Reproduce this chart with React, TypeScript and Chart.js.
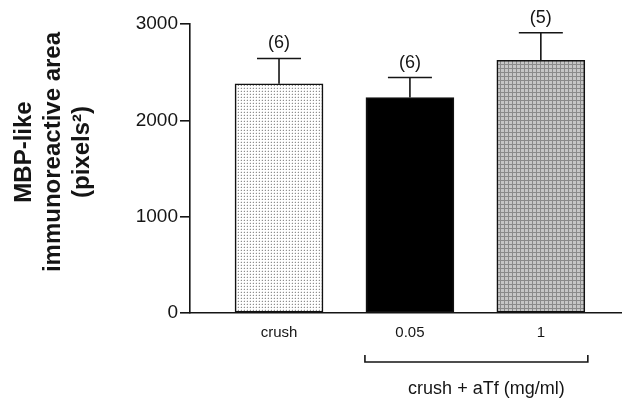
import React, { useEffect, useRef } from "react";
import { Chart, registerables } from "chart.js";

Chart.register(...registerables);

const categories = ["crush", "0.05", "1"];
const xPositions = [1, 2, 3];
const means = [2380, 2237, 2624];
const sems = [262, 207, 285];
const nLabels = ["(6)", "(6)", "(5)"];
const yTicks = [0, 1000, 2000, 3000];
const groupLabel = "crush + aTf (mg/ml)";
const titleLines = ["MBP-like", "immunoreactive area", "(pixels\u00B2)"];

const FONT = "'Liberation Sans', Arial, Helvetica, sans-serif";
const INK = "#151515";

function makePattern(kind: string): CanvasPattern | string {
  const c = document.createElement("canvas");
  const size = kind === "dots" ? 3 : 4;
  c.width = size;
  c.height = size;
  const ctx = c.getContext("2d");
  if (!ctx) return "#ccc";
  if (kind === "dots") {
    ctx.fillStyle = "#ffffff";
    ctx.fillRect(0, 0, size, size);
    ctx.fillStyle = "#8f8f8f";
    ctx.fillRect(1, 1, 1, 1);
    ctx.fillStyle = "#e6e6e6";
    ctx.fillRect(0, 1, 1, 1);
    ctx.fillRect(1, 0, 1, 1);
  } else {
    ctx.fillStyle = "#c6c6c6";
    ctx.fillRect(0, 0, size, size);
    ctx.fillStyle = "#8a8a8a";
    ctx.fillRect(0, 0, size, 1);
    ctx.fillRect(0, 0, 1, size);
  }
  const p = ctx.createPattern(c, "repeat");
  return p || "#ccc";
}

const annotations = {
  id: "annotations",
  afterDatasetsDraw(chart: any) {
    const ctx = chart.ctx as CanvasRenderingContext2D;
    const meta = chart.getDatasetMeta(0);
    const y = chart.scales.y;
    ctx.save();
    ctx.strokeStyle = INK;
    ctx.lineWidth = 1.6;
    meta.data.forEach((bar: any, i: number) => {
      const top = y.getPixelForValue(means[i] + sems[i]);
      ctx.beginPath();
      ctx.moveTo(bar.x, bar.y);
      ctx.lineTo(bar.x, top);
      ctx.moveTo(bar.x - 22, top);
      ctx.lineTo(bar.x + 22, top);
      ctx.stroke();
      ctx.fillStyle = INK;
      ctx.font = `18px ${FONT}`;
      ctx.textAlign = "center";
      ctx.textBaseline = "middle";
      ctx.fillText(nLabels[i], bar.x, top - 15);
    });
    ctx.restore();
  },
  afterDraw(chart: any) {
    const ctx = chart.ctx as CanvasRenderingContext2D;
    const meta = chart.getDatasetMeta(0);
    const b1 = meta.data[1];
    const b2 = meta.data[2];
    const left = b1.x - b1.width / 2 - 1;
    const right = b2.x + b2.width / 2 + 3;
    const by = 362;
    ctx.save();
    ctx.strokeStyle = INK;
    ctx.lineWidth = 1.6;
    ctx.beginPath();
    ctx.moveTo(left, by - 7);
    ctx.lineTo(left, by);
    ctx.lineTo(right, by);
    ctx.lineTo(right, by - 7);
    ctx.stroke();
    ctx.fillStyle = INK;
    ctx.font = `18px ${FONT}`;
    ctx.textAlign = "center";
    ctx.textBaseline = "middle";
    ctx.fillText(groupLabel, (left + right) / 2 + 10, 389);

    // rotated y-axis title
    const xs = [24, 53, 82];
    ctx.font = `bold 24px ${FONT}`;
    titleLines.forEach((line, i) => {
      ctx.save();
      ctx.translate(xs[i], 152);
      ctx.rotate(-Math.PI / 2);
      ctx.fillText(line, 0, 0);
      ctx.restore();
    });
    ctx.restore();
  },
};

export default function App() {
  const ref = useRef<HTMLCanvasElement | null>(null);

  useEffect(() => {
    if (!ref.current) return;
    const dots = makePattern("dots");
    const grid = makePattern("grid");
    const chart = new Chart(ref.current, {
      type: "bar",
      data: {
        datasets: [
          {
            data: xPositions.map((x, i) => ({ x, y: means[i] })) as any,
            backgroundColor: [dots, "#000000", grid] as any,
            borderColor: "#111111",
            borderWidth: 1.6,
            borderSkipped: false,
            barThickness: 88,
          },
        ],
      },
      options: {
        responsive: false,
        animation: false,
        devicePixelRatio: 1,
        layout: { padding: { top: 24, right: 0, left: 0, bottom: 0 } },
        plugins: { legend: { display: false }, tooltip: { enabled: false } },
        scales: {
          x: {
            type: "linear",
            offset: false,
            min: 0.32,
            max: 3.62,
            grid: { display: true, drawOnChartArea: false, drawTicks: false },
            border: { display: true, color: INK, width: 1.6 },
            afterBuildTicks: (s: any) => {
              s.ticks = xPositions.map((v) => ({ value: v }));
            },
            ticks: {
              autoSkip: false,
              maxRotation: 0,
              padding: 11,
              color: INK,
              font: { family: FONT, size: 15 },
              callback: (v: any) => {
                const idx = xPositions.indexOf(Number(v));
                return idx >= 0 ? categories[idx] : "";
              },
            },
            afterFit: (s: any) => {
              s.height = 86;
            },
          },
          y: {
            min: 0,
            max: 3000,
            afterBuildTicks: (s: any) => {
              s.ticks = yTicks.map((v) => ({ value: v }));
            },
            grid: {
              display: true,
              drawOnChartArea: false,
              drawTicks: true,
              tickLength: 10,
              color: INK,
              lineWidth: 1.6,
            },
            border: { display: true, color: INK, width: 1.6 },
            ticks: {
              padding: 2,
              color: INK,
              font: { family: FONT, size: 19 },
              callback: (v: any) => String(v),
            },
            afterFit: (s: any) => {
              s.width = 190;
            },
          },
        },
      },
      plugins: [annotations],
    });
    return () => chart.destroy();
  }, []);

  return (
    <div style={{ position: "fixed", left: 0, top: 0, width: 622, height: 399, background: "#fff" }}>
      <canvas ref={ref} width={622} height={399} style={{ display: "block" }} />
    </div>
  );
}
